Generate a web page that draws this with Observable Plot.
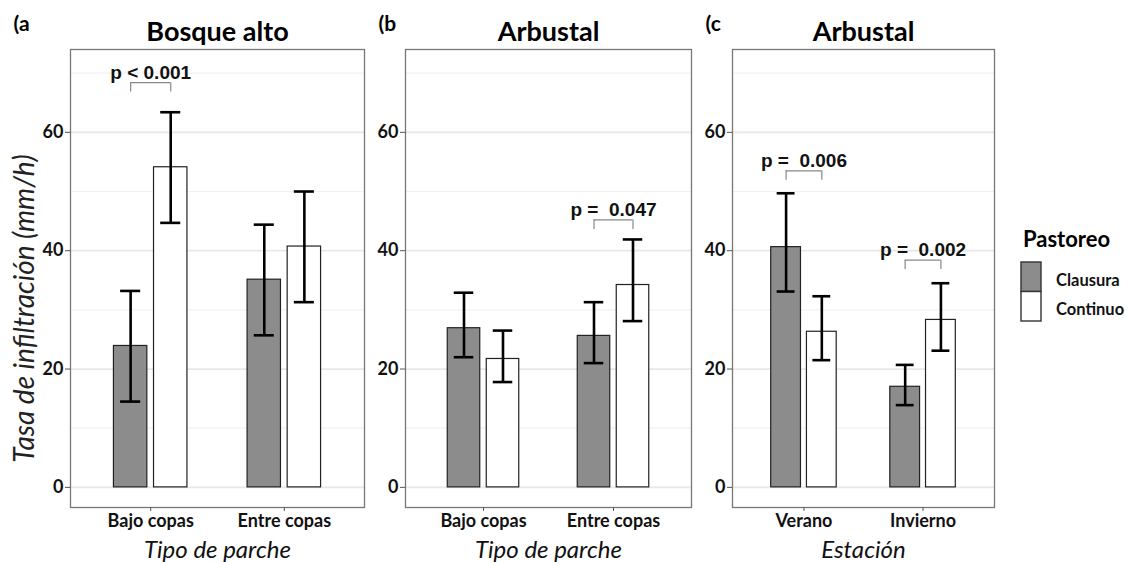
<!DOCTYPE html>
<html><head><meta charset="utf-8">
<script src="https://cdn.jsdelivr.net/npm/d3@7"></script>
<script src="https://cdn.jsdelivr.net/npm/@observablehq/plot@0.6"></script>
<style>
body{margin:0;background:#fff;}
#chart{position:relative;width:1132px;height:562px;overflow:hidden;font-family:Lato, sans-serif;}
#chart .panel{position:absolute;top:0;}
#chart svg text{white-space:pre;}
</style></head><body><div id="chart"></div>
<script>
// ---- data ----
const series = ["Clausura", "Continuo"];
const seriesFill = ["#8c8c8c", "#ffffff"];
const legendTitle = "Pastoreo";
const yTitle = "Tasa de infiltración (mm/h)";
const yTicks = [0, 20, 40, 60];
const yMinor = [10, 30, 50, 70];

const panelTitles = ["Bosque alto", "Arbustal", "Arbustal"];
const panelTags = ["(a", "(b", "(c"];
const xTitles = ["Tipo de parche", "Tipo de parche", "Estación"];

const categoriesA = ["Bajo copas", "Entre copas"];
const meanA_Clausura = [23.9, 35.1];
const lowA_Clausura  = [14.5, 25.7];
const highA_Clausura = [33.2, 44.4];
const meanA_Continuo = [54.1, 40.7];
const lowA_Continuo  = [44.7, 31.3];
const highA_Continuo = [63.4, 50.0];
const annA = [{cat: "Bajo copas", y: 68.4, label: "p < 0.001"}];

const categoriesB = ["Bajo copas", "Entre copas"];
const meanB_Clausura = [26.9, 25.6];
const lowB_Clausura  = [22.0, 21.0];
const highB_Clausura = [32.9, 31.3];
const meanB_Continuo = [21.7, 34.2];
const lowB_Continuo  = [17.8, 28.1];
const highB_Continuo = [26.5, 41.9];
const annB = [{cat: "Entre copas", y: 45.2, label: "p =  0.047"}];

const categoriesC = ["Verano", "Invierno"];
const meanC_Clausura = [40.6, 17.0];
const lowC_Clausura  = [33.1, 13.9];
const highC_Clausura = [49.7, 20.7];
const meanC_Continuo = [26.3, 28.3];
const lowC_Continuo  = [21.5, 23.1];
const highC_Continuo = [32.3, 34.5];
const annC = [{cat: "Verano", y: 53.5, label: "p =  0.006"}, {cat: "Invierno", y: 38.4, label: "p =  0.002"}];

// ---- layout ----
const FONT = "Lato, 'Open Sans', sans-serif";
const dodge = [-0.15, 0.15];
const barHalf = 0.125, capHalf = 0.075, tip = 1.6;

function panel(cfg) {
  const rows = [];
  cfg.categories.forEach((c, i) => {
    series.forEach((s, j) => {
      rows.push({cat: c, series: s, pos: i + 1 + dodge[j],
        mean: cfg.means[j][i], low: cfg.lows[j][i], high: cfg.highs[j][i]});
    });
  });
  const ann = cfg.ann.map(a => ({...a, idx: cfg.categories.indexOf(a.cat) + 1}));
  const marks = [
    Plot.ruleY(yMinor, {stroke: "#f2f2f2", strokeWidth: 1.2}),
    Plot.ruleY(yTicks, {stroke: "#e8e8e8", strokeWidth: 1.8}),
    Plot.rectY(rows, {x1: d => d.pos - barHalf, x2: d => d.pos + barHalf, y1: 0, y2: "mean",
      fill: "series", stroke: "#222", strokeWidth: 1.2}),
    Plot.ruleX(rows, {x: "pos", y1: "low", y2: "high", stroke: "#000", strokeWidth: 2.6}),
    Plot.ruleY(rows, {y: "low", x1: d => d.pos - capHalf, x2: d => d.pos + capHalf, stroke: "#000", strokeWidth: 2.6}),
    Plot.ruleY(rows, {y: "high", x1: d => d.pos - capHalf, x2: d => d.pos + capHalf, stroke: "#000", strokeWidth: 2.6}),
    Plot.ruleY(ann, {y: "y", x1: d => d.idx + dodge[0], x2: d => d.idx + dodge[1], stroke: "#888", strokeWidth: 1.2}),
    Plot.ruleX(ann, {x: d => d.idx + dodge[0], y1: d => d.y - tip, y2: "y", stroke: "#888", strokeWidth: 1.2}),
    Plot.ruleX(ann, {x: d => d.idx + dodge[1], y1: d => d.y - tip, y2: "y", stroke: "#888", strokeWidth: 1.2}),
    Plot.text(ann, {x: "idx", y: "y", text: "label", lineAnchor: "bottom", dy: -4,
      fontSize: 19, fontWeight: "bold", fontFamily: "'Liberation Sans', Arial, sans-serif", fill: "#111"}),
    Plot.frame({stroke: "#777", strokeWidth: 1.3}),
    Plot.axisY({ticks: yTicks, tickSize: 5, tickPadding: 2, fontSize: 18, fontWeight: "bold",
      stroke: "#555", fill: "#111", label: null}),
    Plot.axisX({ticks: cfg.categories.map((c, i) => i + 1), tickSize: 4, tickPadding: 3,
      tickFormat: v => cfg.categories[v - 1], fontSize: 18, fontWeight: "bold",
      stroke: "#555", fill: "#111", label: null}),
    Plot.text([cfg.title], {frameAnchor: "top", lineAnchor: "bottom", dy: -8.5,
      fontSize: 27, fontWeight: "bold", fill: "#000"}),
    Plot.text([cfg.tag], {frameAnchor: "top-left", textAnchor: "start", lineAnchor: "bottom",
      dx: cfg.tagDx, dy: -18.5, fontSize: 21, fontWeight: "bold", fill: "#000"}),
    Plot.text([cfg.xTitle], {frameAnchor: "bottom", lineAnchor: "bottom", dy: 50,
      fontSize: 24, fontStyle: "italic", fill: "#111"})
  ];
  if (cfg.yTitle) {
    marks.push(Plot.text([cfg.yTitle], {frameAnchor: "left", textAnchor: "middle", rotate: -90, dx: -45, dy: 30,
      fontSize: 28, fontStyle: "italic", fill: "#222"}));
  }
  const svg = Plot.plot({
    width: cfg.width, height: 562,
    marginLeft: cfg.marginLeft, marginRight: cfg.marginRight, marginTop: 49, marginBottom: 55,
    x: {domain: [0.4, 2.6], axis: null},
    y: {domain: [-3.4, 74], axis: null},
    color: {domain: series, range: seriesFill},
    style: {fontFamily: FONT, background: "transparent", overflow: "visible"},
    marks
  });
  const wrap = document.createElement("div");
  wrap.className = "panel";
  wrap.style.left = cfg.left + "px";
  wrap.appendChild(svg);
  return wrap;
}

const chart = document.getElementById("chart");
chart.appendChild(panel({left: 0, width: 370, marginLeft: 70, marginRight: 6, tagDx: -57,
  categories: categoriesA, title: panelTitles[0], tag: panelTags[0], xTitle: xTitles[0], yTitle,
  means: [meanA_Clausura, meanA_Continuo], lows: [lowA_Clausura, lowA_Continuo], highs: [highA_Clausura, highA_Continuo], ann: annA}));
chart.appendChild(panel({left: 370, width: 330, marginLeft: 35, marginRight: 9, tagDx: -27,
  categories: categoriesB, title: panelTitles[1], tag: panelTags[1], xTitle: xTitles[1],
  means: [meanB_Clausura, meanB_Continuo], lows: [lowB_Clausura, lowB_Continuo], highs: [highB_Clausura, highB_Continuo], ann: annB}));
chart.appendChild(panel({left: 700, width: 300, marginLeft: 32, marginRight: 6, tagDx: -27,
  categories: categoriesC, title: panelTitles[2], tag: panelTags[2], xTitle: xTitles[2],
  means: [meanC_Clausura, meanC_Continuo], lows: [lowC_Clausura, lowC_Continuo], highs: [highC_Clausura, highC_Continuo], ann: annC}));

// ---- legend ----
const lg = d3.select(chart).append("svg").attr("class", "panel")
  .style("left", "1000px").attr("width", 132).attr("height", 562)
  .style("font-family", FONT);
lg.append("text").attr("x", 23).attr("y", 247).attr("font-size", 22).attr("font-weight", "bold")
  .attr("fill", "#000").text(legendTitle);
series.forEach((s, j) => {
  lg.append("rect").attr("x", 21).attr("y", 262 + j * 29.5).attr("width", 20).attr("height", 29.5)
    .attr("fill", seriesFill[j]).attr("stroke", "#333").attr("stroke-width", 1.4);
  lg.append("text").attr("x", 56).attr("y", 286 + j * 29).attr("font-size", 16.5).attr("font-weight", "bold")
    .attr("fill", "#111").text(s);
});
</script></body></html>
